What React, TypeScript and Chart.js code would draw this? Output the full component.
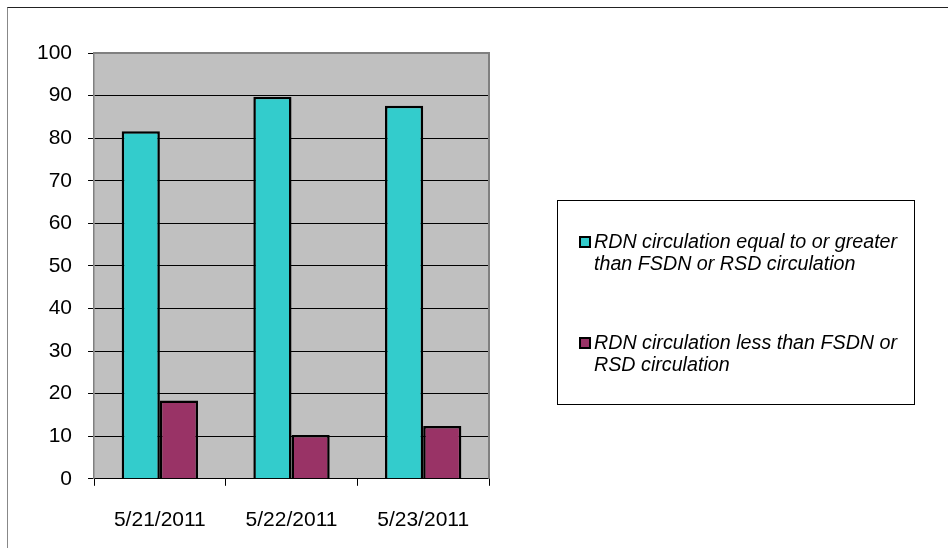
import React, { useEffect, useRef } from "react";
import { Chart, registerables } from "chart.js";

Chart.register(...registerables);

const categories = ["5/21/2011", "5/22/2011", "5/23/2011"];
const seriesLabels = [
  "RDN circulation equal to or greater than FSDN or RSD circulation",
  "RDN circulation less than FSDN or RSD circulation",
];
const equalOrGreater = [81.6, 89.7, 87.6];
const lessThan = [18.4, 10.3, 12.4];
const seriesColors = ["#33CCCC", "#993366"];

const FONT = "'Liberation Sans', Arial, sans-serif";

const plotBgPlugin = {
  id: "plotBg",
  beforeDraw(chart: any) {
    const { ctx, chartArea: a } = chart;
    ctx.save();
    ctx.fillStyle = "#C0C0C0";
    ctx.fillRect(a.left, a.top, a.right - a.left, a.bottom - a.top);
    ctx.restore();
  },
  afterDraw(chart: any) {
    const { ctx, chartArea: a } = chart;
    ctx.save();
    ctx.strokeStyle = "#808080";
    ctx.lineWidth = 2;
    ctx.beginPath();
    ctx.moveTo(a.left, a.top);
    ctx.lineTo(a.right, a.top);
    ctx.lineTo(a.right, a.bottom);
    ctx.stroke();
    ctx.restore();
  },
};

const legendPlugin = {
  id: "boxLegend",
  afterDraw(chart: any) {
    const ctx = chart.ctx;
    const box = { x: 557.5, y: 200.5, w: 357, h: 204 };
    ctx.save();
    ctx.strokeStyle = "#000";
    ctx.lineWidth = 1;
    ctx.strokeRect(box.x, box.y, box.w, box.h);
    ctx.font = `italic 19.7px ${FONT}`;
    ctx.fillStyle = "#000";
    ctx.textBaseline = "middle";
    const textX = 594;
    const maxW = 318;
    const starts = [242, 343];
    const lineH = 22;
    chart.data.datasets.forEach((ds: any, i: number) => {
      const words = String(ds.label).split(" ");
      const lines: string[] = [];
      let cur = "";
      words.forEach((w) => {
        const t = cur ? cur + " " + w : w;
        if (ctx.measureText(t).width > maxW && cur) {
          lines.push(cur);
          cur = w;
        } else cur = t;
      });
      if (cur) lines.push(cur);
      const y0 = starts[i];
      ctx.fillStyle = ds.backgroundColor;
      ctx.fillRect(580, y0 - 5, 10, 10);
      ctx.strokeStyle = "#000";
      ctx.lineWidth = 2;
      ctx.strokeRect(580, y0 - 5, 10, 10);
      ctx.fillStyle = "#000";
      lines.forEach((ln, j) => ctx.fillText(ln, textX, y0 + j * lineH + 1));
    });
    ctx.restore();
  },
};

export default function App() {
  const ref = useRef<HTMLCanvasElement>(null);
  useEffect(() => {
    if (!ref.current) return;
    const chart = new Chart(ref.current, {
      type: "bar",
      data: {
        labels: categories,
        datasets: [
          {
            label: seriesLabels[0],
            data: equalOrGreater,
            backgroundColor: seriesColors[0],
            borderColor: "#000",
            borderWidth: 2.5,
          },
          {
            label: seriesLabels[1],
            data: lessThan,
            backgroundColor: seriesColors[1],
            borderColor: "#000",
            borderWidth: 2.5,
          },
        ],
      },
      options: {
        animation: false,
        responsive: false,
        devicePixelRatio: 1,
        layout: { padding: { left: 21, top: 53, right: 459, bottom: -7 } },
        datasets: {
          bar: { categoryPercentage: 0.58, barPercentage: 1 },
        },
        plugins: {
          legend: { display: false },
          tooltip: { enabled: false },
          title: { display: false },
        },
        scales: {
          x: {
            grid: {
              offset: true,
              drawOnChartArea: false,
              drawTicks: true,
              tickLength: 7,
              color: "#000",
            },
            border: { color: "#000", width: 1 },
            ticks: {
              color: "#000",
              font: { family: FONT, size: 21 },
              padding: 22,
              maxRotation: 0,
            },
          },
          y: {
            min: 0,
            max: 100,
            grid: { color: "#000", tickLength: 6, lineWidth: 1 },
            border: { color: "#808080", width: 1.5 },
            ticks: {
              stepSize: 10,
              color: "#000",
              font: { family: FONT, size: 21 },
              padding: 16,
            },
          },
        },
      },
      plugins: [plotBgPlugin, legendPlugin],
    });
    return () => chart.destroy();
  }, []);
  return (
    <div style={{ position: "fixed", left: 0, top: 0, width: 948, height: 548, background: "#fff", overflow: "hidden" }}>
      <div
        style={{
          position: "absolute",
          left: 7,
          top: 7,
          width: 1000,
          height: 1000,
          borderLeft: "1.5px solid #888",
          borderTop: "1.5px solid #222",
        }}
      />
      <canvas ref={ref} width={948} height={548} style={{ position: "absolute", left: 0, top: 0 }} />
    </div>
  );
}
